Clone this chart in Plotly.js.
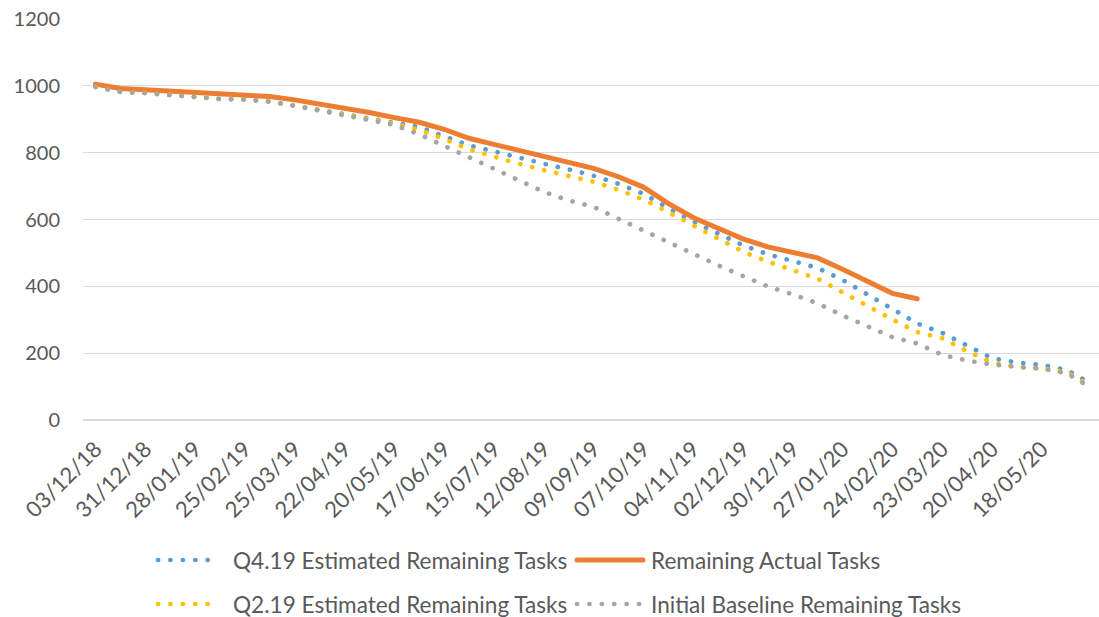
<!DOCTYPE html>
<html>
<head>
<meta charset="utf-8">
<script src="https://cdn.plot.ly/plotly-3.0.1.min.js"></script>
<style>
  html, body { margin: 0; padding: 0; background: #ffffff; }
  #chart { width: 1099px; height: 617px; }
  path.js-line, .shapelayer path { stroke-linecap: round; }
</style>
</head>
<body>
<div id="chart"></div>
<script>
// Fortnightly categories (dd/mm/yy)
const categories = ['03/12/18','17/12/18','31/12/18','14/01/19','28/01/19','11/02/19','25/02/19','11/03/19','25/03/19','08/04/19','22/04/19','06/05/19','20/05/19','03/06/19','17/06/19','01/07/19','15/07/19','29/07/19','12/08/19','26/08/19','09/09/19','23/09/19','07/10/19','21/10/19','04/11/19','18/11/19','02/12/19','16/12/19','30/12/19','13/01/20','27/01/20','10/02/20','24/02/20','09/03/20','23/03/20','06/04/20','20/04/20','04/05/20','18/05/20','01/06/20','15/06/20'];

// Labels shown on the x axis
const tickLabels = ['03/12/18','31/12/18','28/01/19','25/02/19','25/03/19','22/04/19','20/05/19','17/06/19','15/07/19','12/08/19','09/09/19','07/10/19','04/11/19','02/12/19','30/12/19','27/01/20','24/02/20','23/03/20','20/04/20','18/05/20'];

const seriesNames = ['Q4.19 Estimated Remaining Tasks','Remaining Actual Tasks','Q2.19 Estimated Remaining Tasks','Initial Baseline Remaining Tasks'];

const q419Estimated = [997,982,979,972,966,961,959,953,941,928,915,902,889,877,849,822,804,784,767,750,731,707,677,634,594,558,523,496,476,455,419,377,333,289,261,222,185,172,165,150,108];
const remainingActual = [1005,992,988,984,980,976,972,968,958,946,934,920,905,891,870,843,825,807,788,773,753,728,697,648,606,574,542,518,502,485,451,414,379,363,null,null,null,null,null,null,null];
const q219Estimated = [997,982,979,972,966,961,959,953,941,928,914,901,887,868,841,810,788,767,748,731,713,689,660,622,582,541,504,474,450,423,382,340,301,263,245,206,172,159,154,143,100];
const initialBaseline = [997,982,979,972,966,961,959,953,940,926,912,898,883,855,821,786,750,717,683,657,638,602,567,532,498,463,431,400,376,349,313,280,248,229,195,178,166,159,154,140,96];

const colors = ['#5B9BD5', '#ED7D31', '#FFC000', '#A5A5A5'];
const DOT = '0.1px,12.3px';
const FONT = 'Lato, "Open Sans", sans-serif';
const TXT = '#595959';

const seriesValues = [q419Estimated, remainingActual, q219Estimated, initialBaseline];
const dashes = [DOT, 'solid', DOT, DOT];
const widths = [4.7, 5, 4.7, 4.7];

const traces = seriesValues.map((vals, i) => ({
  type: 'scatter',
  mode: 'lines',
  name: seriesNames[i],
  x: categories,
  y: vals,
  connectgaps: false,
  line: { color: colors[i], width: widths[i], dash: dashes[i], shape: 'linear' },
  hoverinfo: 'x+y+name',
  showlegend: false
}));

// Custom legend (two rows x two columns), positioned in paper coordinates
const L = 83, W = 1016, B = 420, H = 401;
const px = v => (v - L) / W;
const py = v => (B - v) / H;
const legendPos = [
  { sx0: 158, sx1: 220, tx: 231, y: 560 },
  { sx0: 577, sx1: 643, tx: 649, y: 560 },
  { sx0: 158, sx1: 220, tx: 231, y: 604 },
  { sx0: 577, sx1: 640, tx: 649, y: 604 }
];
const shapes = legendPos.map((p, i) => ({
  type: 'line', xref: 'paper', yref: 'paper',
  x0: px(p.sx0), x1: px(p.sx1), y0: py(p.y), y1: py(p.y),
  line: { color: colors[i], width: widths[i], dash: dashes[i] }
}));
const annotations = legendPos.map((p, i) => ({
  xref: 'paper', yref: 'paper', x: px(p.tx), y: py(p.y),
  xanchor: 'left', yanchor: 'middle', showarrow: false,
  text: seriesNames[i],
  font: { family: FONT, size: 22.6, color: TXT }
}));

const layout = {
  width: 1099, height: 617,
  margin: { l: L, r: 0, t: 19, b: 197 },
  paper_bgcolor: '#ffffff', plot_bgcolor: '#ffffff',
  showlegend: false,
  xaxis: {
    type: 'category',
    range: [-0.5, 40.3],
    tickmode: 'array',
    tickvals: tickLabels,
    ticktext: tickLabels,
    tickangle: -45,
    ticks: '',
    showgrid: false,
    showline: false,
    zeroline: false,
    ticklabelstandoff: 11,
    tickfont: { family: FONT, size: 22, color: TXT }
  },
  yaxis: {
    range: [0, 1200],
    tickmode: 'linear', tick0: 0, dtick: 200,
    ticks: '',
    showgrid: true, gridcolor: '#D9D9D9', gridwidth: 1.3,
    zeroline: true, zerolinecolor: '#D9D9D9', zerolinewidth: 1.3,
    showline: false,
    ticklabelstandoff: 22,
    tickfont: { family: FONT, size: 20, color: TXT }
  },
  shapes: shapes,
  annotations: annotations
};

Plotly.newPlot('chart', traces, layout, { displayModeBar: false, staticPlot: true });
</script>
</body>
</html>
